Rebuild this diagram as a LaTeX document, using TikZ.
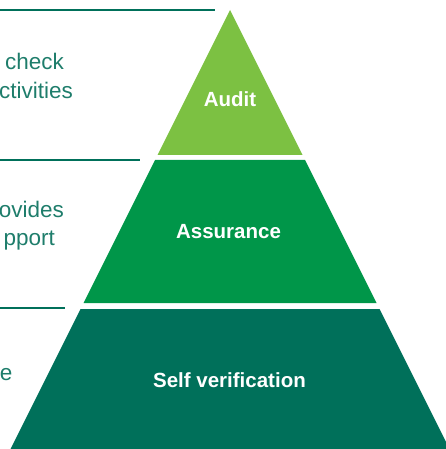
\documentclass[tikz,border=0pt]{standalone}
\usepackage{fontspec}
\setmainfont{Liberation Sans}
\usepackage{xcolor}
\usepackage{tikz}
\usetikzlibrary{
	arrows.meta,
	calc,
	positioning,
	}

\definecolor{auditgreen}{HTML}{7CC142}
\definecolor{assurgreen}{HTML}{009649}
\definecolor{selfgreen}{HTML}{00705A}
\definecolor{notegreen}{HTML}{1E7D6B}

\begin{document}
\begin{tikzpicture}[x=1pt, y=-1pt,
		rule/.style={draw=selfgreen, line width=1.3pt},
		note/.style={text=notegreen, inner sep=0pt, anchor=base east, font=\fontsize{22.5}{27}\selectfont},
		label/.style={text=white, inner sep=0pt, anchor=base, font=\fontsize{20.5}{24}\selectfont\bfseries},
	]
		\useasboundingbox (0,0) rectangle (446,449);
		\clip (0,0) rectangle (446,449);
		% pyramid
		\fill[auditgreen] (230,10) -- (302.5,155) -- (157.5,155) -- cycle;
		\fill[assurgreen] (155,160) -- (305,160) -- (376.5,303) -- (83.5,303) -- cycle;
		\fill[selfgreen] (80.5,309) -- (379.5,309) -- (449.5,449) -- (10.5,449) -- cycle;
		\node[label] (audit) at (230,107) {Audit};
		\node[label] (assur) at (228.5,238) {Assurance};
		\node[label] (self) at (229.5,387) {Self verification};
		% rules on the left
		\draw[rule] (0,10) -- (215,10);
		\draw[rule] (0,160) -- (140,160);
		\draw[rule] (0,308) -- (65,308);
		% notes
		\node[note] (n1) at (64,69.5) {check};
		\node[note] (n2) at (73,98.5) {ctivities};
		\node[note] (n3) at (64,217) {ovides};
		\node[note] (n4) at (55,245) {pport};
		\node[note] (n5) at (12.5,380) {e};
	\end{tikzpicture}
\end{document}
